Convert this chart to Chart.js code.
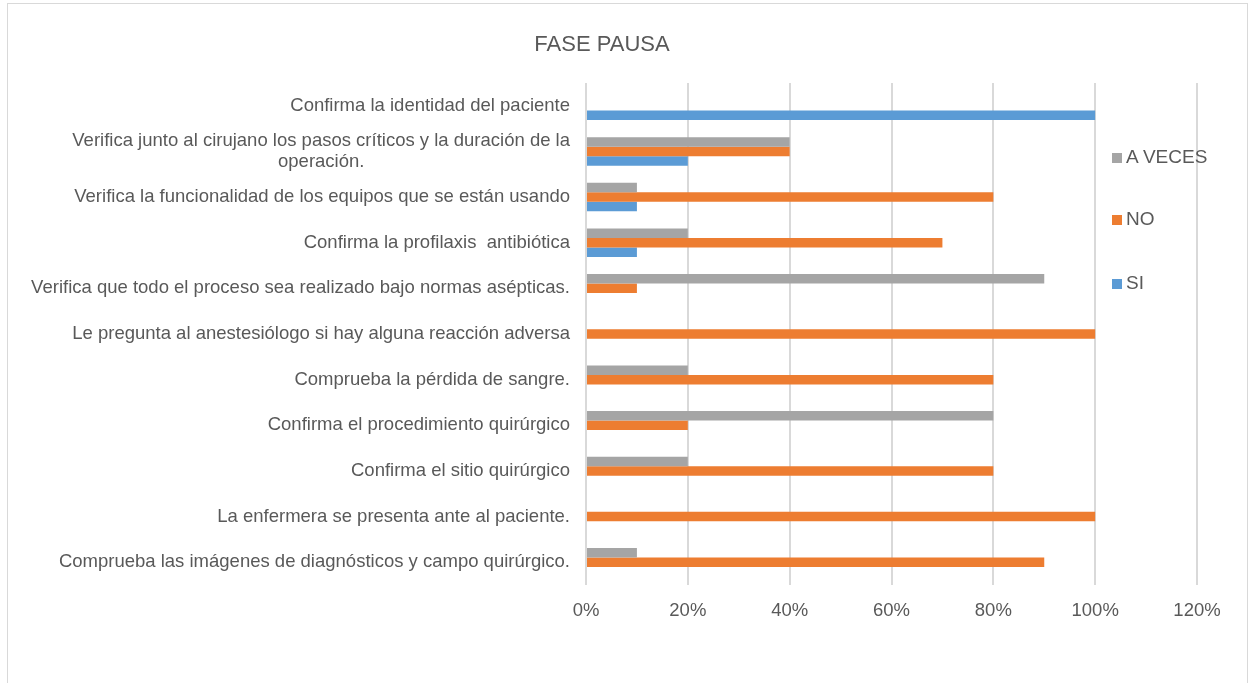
<!DOCTYPE html>
<html lang="es">
<head>
<meta charset="utf-8">
<title>FASE PAUSA</title>
<script src="https://cdn.jsdelivr.net/npm/chart.js@4.4.1/dist/chart.umd.min.js"></script>
<style>
  html, body { margin: 0; padding: 0; background: #fff; }
  body { width: 1257px; height: 683px; position: relative; overflow: hidden; font-family: "Liberation Sans", Arial, sans-serif; }
  #frame { position: absolute; left: 7px; top: 3px; width: 1241px; height: 720px; border: 1px solid #d9d9d9; box-sizing: border-box; }
  #chart { position: absolute; left: 0; top: 0; }
  .legend-item { position: absolute; left: 1112px; height: 22px; line-height: 22px; font-size: 19px; color: #595959; white-space: nowrap; }
  .legend-item span { display: inline-block; width: 10px; height: 10px; margin-right: 4px; vertical-align: 0px; }
</style>
</head>
<body>
<div id="frame"></div>
<canvas id="chart" width="1257" height="683"></canvas>
<div id="legend"></div>
<script>
// Categories, top to bottom as in the picture
const categories = [
  "Confirma la identidad del paciente",
  ["Verifica junto al cirujano los pasos críticos y la duración de la", "operación."],
  "Verifica la funcionalidad de los equipos que se están usando",
  "Confirma la profilaxis  antibiótica",
  "Verifica que todo el proceso sea realizado bajo normas asépticas.",
  "Le pregunta al anestesiólogo si hay alguna reacción adversa",
  "Comprueba la pérdida de sangre.",
  "Confirma el procedimiento quirúrgico",
  "Confirma el sitio quirúrgico",
  "La enfermera se presenta ante al paciente.",
  "Comprueba las imágenes de diagnósticos y campo quirúrgico.",
]

// Series values (percent)
const siValues = [100, 20, 10, 10, 0, 0, 0, 0, 0, 0, 0]
const noValues = [0, 40, 80, 70, 10, 100, 80, 20, 80, 100, 90]
const aVecesValues = [0, 40, 10, 20, 90, 0, 20, 80, 20, 0, 10]

// Axis ticks
const xTickValues = [0, 20, 40, 60, 80, 100, 120]
const xTickLabels = ["0%", "20%", "40%", "60%", "80%", "100%", "120%"]

const seriesNames = ["A VECES", "NO", "SI"]
const seriesColors = ["#a5a5a5", "#ed7d31", "#5b9bd5"]

const textColor = "#595959"
const fontFamily = '"Liberation Sans", Arial, sans-serif'
const labelFont = { family: fontFamily, size: 18.5, lineHeight: 1.1 }

/**
 * Pads the second line of a two-line label so it sits centred under the first
 * (the axis labels themselves are right-aligned)
 */
function centreSecondLine(lines) {
  const ctx = document.createElement("canvas").getContext("2d")
  ctx.font = `${labelFont.size}px ${fontFamily}`
  const gap = ctx.measureText(lines[0]).width - ctx.measureText(lines[1]).width
  const space = ctx.measureText("\u00a0").width
  const count = Math.max(0, Math.round(gap / 2 / space))
  return [lines[0], lines[1] + "\u00a0".repeat(count)]
}

const yLabels = categories.map((c) => (Array.isArray(c) ? centreSecondLine(c) : c))

function buildLegend() {
  const legend = document.getElementById("legend")
  const tops = [146, 208, 272]
  seriesNames.forEach((name, i) => {
    const item = document.createElement("div")
    item.className = "legend-item"
    item.style.top = tops[i] + "px"
    item.innerHTML = `<span style="background:${seriesColors[i]}"></span>${name}`
    legend.appendChild(item)
  })
}

function initChart() {
  const ctx = document.getElementById("chart").getContext("2d")
  const values = [aVecesValues, noValues, siValues]

  new Chart(ctx, {
    type: "bar",
    data: {
      labels: yLabels,
      datasets: seriesNames.map((name, i) => ({
        label: name,
        data: values[i],
        backgroundColor: seriesColors[i],
        borderWidth: 0,
        barPercentage: 1,
        categoryPercentage: 0.625,
      })),
    },
    options: {
      indexAxis: "y",
      responsive: false,
      animation: false,
      devicePixelRatio: 1,
      layout: {
        padding: { left: 7, right: 60, top: 0, bottom: 58 },
      },
      scales: {
        x: {
          min: 0,
          max: 120,
          afterBuildTicks: (scale) => {
            scale.ticks = xTickValues.map((v) => ({ value: v }))
          },
          afterFit: (scale) => {
            scale.height = 40
          },
          grid: {
            color: "#d9d9d9",
            lineWidth: 2,
            drawTicks: false,
          },
          border: { display: false },
          ticks: {
            color: textColor,
            font: labelFont,
            padding: 16,
            maxRotation: 0,
            callback: (value) => xTickLabels[xTickValues.indexOf(value)],
          },
        },
        y: {
          afterFit: (scale) => {
            scale.width = 579
          },
          grid: { display: false, drawTicks: false },
          border: { display: false },
          ticks: {
            color: textColor,
            font: labelFont,
            padding: 16,
            autoSkip: false,
          },
        },
      },
      plugins: {
        legend: { display: false },
        tooltip: { enabled: false },
        title: {
          display: true,
          text: "FASE PAUSA",
          color: textColor,
          font: { family: fontFamily, size: 22, weight: "normal", lineHeight: 1.2 },
          padding: { top: 32, bottom: 24.6 },
        },
      },
    },
  })
}

buildLegend()
initChart()
</script>
</body>
</html>
